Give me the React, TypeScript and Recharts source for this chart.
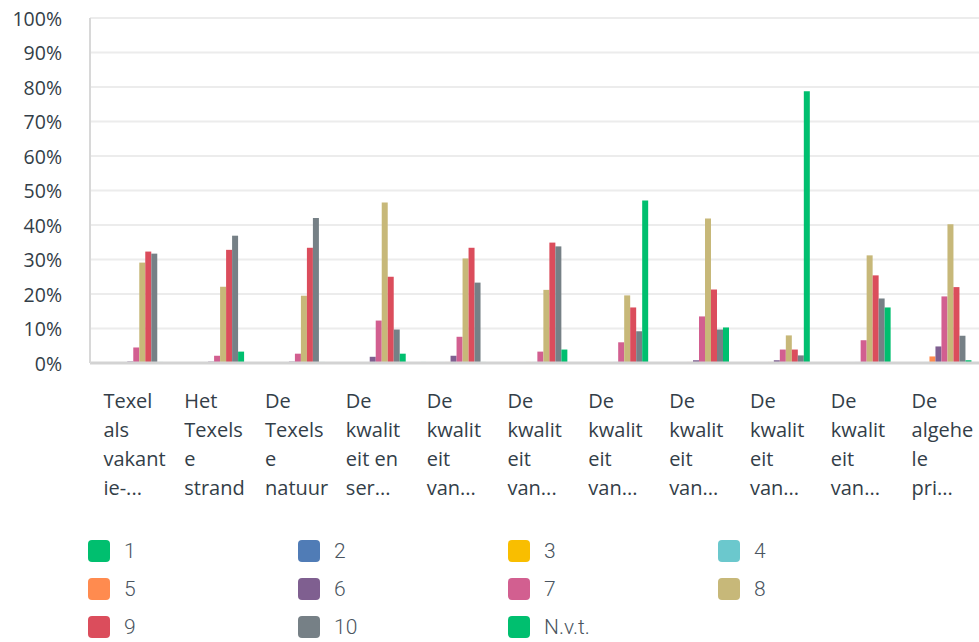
import React from 'react';
import { BarChart, Bar, XAxis, YAxis, CartesianGrid } from 'recharts';

const categories = [
  'Texel als vakantie-...',
  'Het Texelse strand',
  'De Texelse natuur',
  'De kwaliteit en ser...',
  'De kwaliteit van... (1)',
  'De kwaliteit van... (2)',
  'De kwaliteit van... (3)',
  'De kwaliteit van... (4)',
  'De kwaliteit van... (5)',
  'De kwaliteit van... (6)',
  'De algehele pri...',
];

// wrapped tick text as shown under each group
const tickLines = [
  ['Texel', 'als', 'vakant', 'ie-...'],
  ['Het', 'Texels', 'e', 'strand'],
  ['De', 'Texels', 'e', 'natuur'],
  ['De', 'kwalit', 'eit en', 'ser...'],
  ['De', 'kwalit', 'eit', 'van...'],
  ['De', 'kwalit', 'eit', 'van...'],
  ['De', 'kwalit', 'eit', 'van...'],
  ['De', 'kwalit', 'eit', 'van...'],
  ['De', 'kwalit', 'eit', 'van...'],
  ['De', 'kwalit', 'eit', 'van...'],
  ['De', 'algehe', 'le', 'pri...'],
];

const yTicks = [0, 10, 20, 30, 40, 50, 60, 70, 80, 90, 100];

const score1 = [0, 0, 0, 0, 0.3, 0, 0, 0, 0, 0, 0];
const score2 = [0, 0, 0, 0, 0, 0, 0, 0, 0, 0, 0];
const score3 = [0, 0, 0, 0, 0, 0, 0, 0, 0, 0, 0];
const score4 = [0, 0, 0, 0, 0.3, 0, 0, 0, 0, 0, 0.3];
const score5 = [0, 0, 0, 0, 0.3, 0.3, 0, 0.3, 0.3, 0, 1.9];
const score6 = [0.4, 0.4, 0.4, 1.8, 2.1, 0.3, 0.3, 0.8, 0.8, 0.3, 4.8];
const score7 = [4.5, 2.1, 2.7, 12.3, 7.6, 3.3, 6.0, 13.5, 3.9, 6.6, 19.3];
const score8 = [29.1, 22.1, 19.5, 46.5, 30.3, 21.2, 19.6, 41.9, 8.0, 31.2, 40.2];
const score9 = [32.3, 32.8, 33.4, 25.0, 33.4, 34.9, 16.1, 21.3, 3.9, 25.4, 22.0];
const score10 = [31.7, 36.9, 42.0, 9.7, 23.3, 33.8, 9.2, 9.7, 2.2, 18.7, 7.9];
const scoreNvt = [0.3, 3.3, 0.3, 2.7, 0.3, 3.9, 47.1, 10.3, 78.8, 16.1, 0.8];

const series = [
  { key: 's1', name: '1', color: '#00BF6F', values: score1 },
  { key: 's2', name: '2', color: '#507CB6', values: score2 },
  { key: 's3', name: '3', color: '#F9BE00', values: score3 },
  { key: 's4', name: '4', color: '#6BC8CD', values: score4 },
  { key: 's5', name: '5', color: '#FF8B4F', values: score5 },
  { key: 's6', name: '6', color: '#7F5F90', values: score6 },
  { key: 's7', name: '7', color: '#D25F90', values: score7 },
  { key: 's8', name: '8', color: '#C7B879', values: score8 },
  { key: 's9', name: '9', color: '#DB4D5C', values: score9 },
  { key: 's10', name: '10', color: '#768086', values: score10 },
  { key: 'nvt', name: 'N.v.t.', color: '#00BF6F', values: scoreNvt },
];

const data = categories.map((cat, i) => {
  const row: Record<string, any> = { cat, idx: i };
  series.forEach(s => { row[s.key] = s.values[i]; });
  return row;
});

const FONT = '"Open Sans", "Noto Sans", sans-serif';
const TEXT = '#333e48';

const YTick = (props: any) => {
  const { y, payload } = props;
  return (
    <text x={62} y={y} textAnchor="end" dominantBaseline="central" fontSize={19.5} fill={TEXT} fontFamily={FONT}>
      {payload.value}%
    </text>
  );
};

const XTick = (props: any) => {
  const { x, y, payload, index } = props;
  const lines = tickLines[index] || [String(payload.value)];
  return (
    <g>
      {lines.map((line, i) => (
        <text key={i} x={x - 27} y={y + 29 + i * 29} textAnchor="start" dominantBaseline="central" fontSize={20} fill={TEXT} fontFamily={FONT}>
          {line}
        </text>
      ))}
    </g>
  );
};

export default function App() {
  return (
    <div style={{ position: 'absolute', left: 0, top: 0, width: 979, height: 642, background: '#fff', overflow: 'hidden' }}>
      <BarChart
        width={979}
        height={530}
        data={data}
        margin={{ top: 18, right: 0, bottom: 47, left: 0 }}
        barCategoryGap="9%"
        barGap={0}
      >
        <CartesianGrid vertical={false} stroke="#ececec" strokeWidth={2} />
        <XAxis
          dataKey="cat"
          height={120}
          interval={0}
          tickLine={false}
          axisLine={{ stroke: '#d3d3d3', strokeWidth: 3 }}
          tick={<XTick />}
        />
        <YAxis
          width={90}
          domain={[0, 100]}
          ticks={yTicks}
          interval={0}
          tickLine={false}
          axisLine={{ stroke: '#d8d8d8', strokeWidth: 2 }}
          tick={<YTick />}
        />
        {series.map(s => (
          <Bar key={s.key} dataKey={s.key} name={s.name} fill={s.color} isAnimationActive={false} />
        ))}
      </BarChart>
      <div style={{ position: 'absolute', left: 88, top: 540, width: 880, display: 'grid', gridTemplateColumns: 'repeat(4, 210px)', rowGap: 16 }}>
        {series.map(s => (
          <div key={s.key} style={{ display: 'flex', alignItems: 'center', height: 22 }}>
            <div style={{ width: 22, height: 22, borderRadius: 4, background: s.color, marginRight: 14 }} />
            <span style={{ fontFamily: 'Roboto, sans-serif', fontWeight: 300, fontSize: 21, color: '#4a5560' }}>{s.name}</span>
          </div>
        ))}
      </div>
    </div>
  );
}
